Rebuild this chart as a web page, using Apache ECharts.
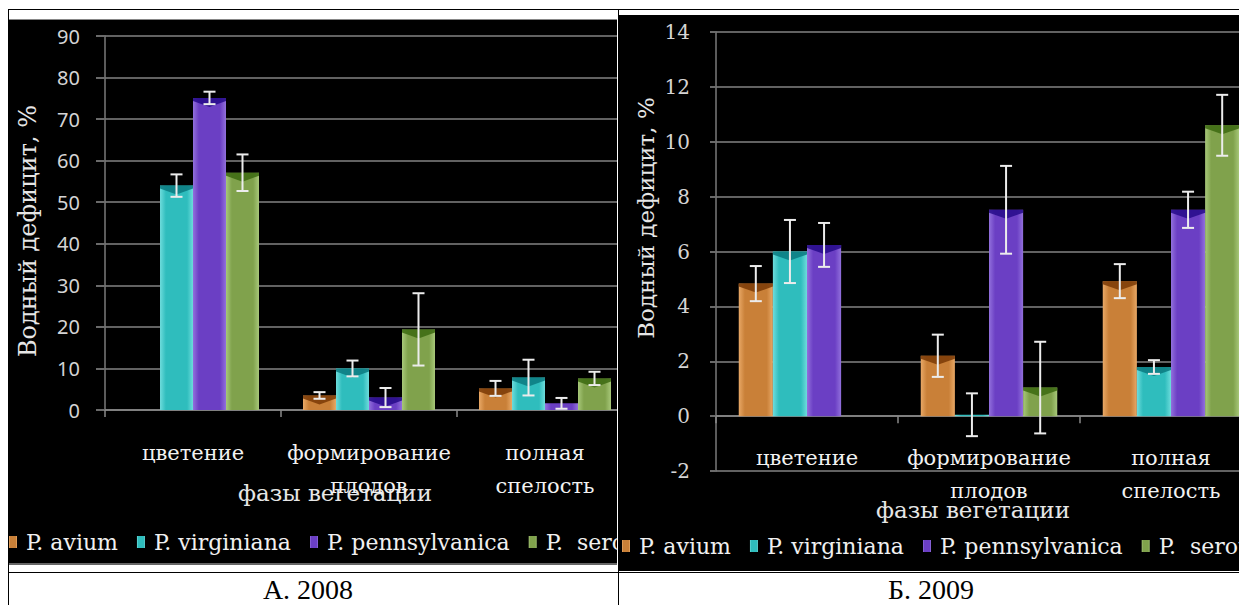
<!DOCTYPE html>
<html>
<head>
<meta charset="utf-8">
<script src="https://cdn.jsdelivr.net/npm/echarts@6/dist/echarts.min.js"></script>
<style>
  html, body { margin: 0; padding: 0; background: #fff; }
  body { width: 1239px; height: 605px; position: relative; overflow: hidden; }
  .ln { position: absolute; background: #000; }
  .panel { position: absolute; background: #000; overflow: hidden; }
  .cap { position: absolute; top: 574px; height: 31px; line-height: 31px; text-align: center;
         font-family: "Liberation Serif", serif; font-size: 28px; color: #000; }
</style>
</head>
<body>
<div class="ln" style="left:8px;top:9px;width:1231px;height:1px"></div>
<div class="ln" style="left:8px;top:572px;width:1231px;height:1px"></div>
<div class="ln" style="left:8px;top:9px;width:1px;height:596px"></div>
<div class="ln" style="left:618px;top:9px;width:1px;height:596px"></div>
<div class="panel" style="left:9px;top:19px;width:608px;height:543px;border-top:1px solid #888;border-bottom:2px solid #666;">
  <div id="c1" style="width:780px;height:543px"></div>
</div>
<div class="panel" style="left:619px;top:15px;width:620px;height:556px;">
  <div id="c2" style="width:780px;height:556px"></div>
</div>
<div class="cap" style="left:203px;width:210px">А. 2008</div>
<div class="cap" style="left:826px;width:210px">Б. 2009</div>
<script>
// ---------- data ----------
const categories = ['цветение', 'формирование\nплодов', 'полная\nспелость'];
const seriesNames = ['P. avium', 'P. virginiana', 'P. pennsylvanica', 'P.  serotina'];
const yAxisName = 'Водный дефицит, %';
const xAxisName = 'фазы вегетации';

// 2008 (panel A)
const avium2008 = [null, 3.5, 5.2];
const aviumErr2008 = [null, 0.8, 1.8];
const virginiana2008 = [54.0, 10.0, 7.8];
const virginianaErr2008 = [2.7, 1.9, 4.3];
const pennsylvanica2008 = [75.1, 3.0, 1.6];
const pennsylvanicaErr2008 = [1.5, 2.3, 1.3];
const serotina2008 = [57.1, 19.4, 7.6];
const serotinaErr2008 = [4.4, 8.7, 1.6];
const yRange2008 = { min: 0, max: 90, interval: 10 };

// 2009 (panel B)
const avium2009 = [4.83, 2.2, 4.92];
const aviumErr2009 = [0.64, 0.77, 0.62];
const virginiana2009 = [6.0, 0.05, 1.79];
const virginianaErr2009 = [1.15, 0.78, 0.25];
const pennsylvanica2009 = [6.24, 7.52, 7.52];
const pennsylvanicaErr2009 = [0.8, 1.6, 0.66];
const serotina2009 = [null, 1.04, 10.6];
const serotinaErr2009 = [null, 1.67, 1.11];
const yRange2009 = { min: -2, max: 14, interval: 2 };

// ---------- styles ----------
const baseColors = ['#c98038', '#2fbdbd', '#6b3fc4', '#80a24c'];
const edgeColors = ['#e8a866', '#6edcdc', '#9270dc', '#a8c87a'];
const capColors  = ['#7a3a06', '#0a7a80', '#260a8a', '#3c6a10'];
const SERIF = '"DejaVu Serif", serif';

function grad(i) {
  return new echarts.graphic.LinearGradient(0, 0, 1, 0, [
    { offset: 0, color: edgeColors[i] },
    { offset: 0.18, color: baseColors[i] },
    { offset: 0.82, color: baseColors[i] },
    { offset: 1, color: edgeColors[i] }
  ]);
}

function build(el, cfg) {
  const chart = echarts.init(el, null, { renderer: 'svg' });
  const vals = cfg.values, errs = cfg.errors;
  const errData = [];
  vals.forEach((arr, s) => arr.forEach((v, i) => {
    if (v !== null && errs[s][i] !== null) errData.push([i, v - errs[s][i], v + errs[s][i], s, v]);
  }));
  const barSeries = vals.map((arr, s) => ({
    name: seriesNames[s], type: 'bar', data: arr,
    barGap: '0%', barCategoryGap: '25%',
    itemStyle: { color: grad(s) }, z: 2
  }));
  const errSeries = {
    type: 'custom', data: errData, z: 5, silent: true,
    encode: { x: 0, y: [1, 2] },
    renderItem: function (params, api) {
      const cat = api.value(0), lo = api.value(1), hi = api.value(2), s = api.value(3), v = api.value(4);
      const cw = api.size([1, 0])[0];
      const bw = cw * 0.75 / 4;
      const cx = api.coord([cat, 0])[0] - cw * 0.375 + bw * (s + 0.5);
      const yLo = api.coord([cat, lo])[1], yHi = api.coord([cat, hi])[1], yV = api.coord([cat, v])[1], y0 = api.coord([cat, 0])[1];
      const children = [];
      if (y0 - yV > 10) {
        children.push({ type: 'polygon', shape: { points: [[cx - bw / 2, yV], [cx + bw / 2, yV], [cx + bw / 2, yV + 3], [cx, yV + 9], [cx - bw / 2, yV + 3]] },
          style: { fill: capColors[s], opacity: 0.85 } });
      }
      const st = { stroke: '#ececec', lineWidth: 2 };
      children.push({ type: 'line', shape: { x1: cx, y1: yLo, x2: cx, y2: yHi }, style: st });
      children.push({ type: 'line', shape: { x1: cx - 6, y1: yHi, x2: cx + 6, y2: yHi }, style: st });
      children.push({ type: 'line', shape: { x1: cx - 6, y1: yLo, x2: cx + 6, y2: yLo }, style: st });
      return { type: 'group', children: children };
    }
  };
  chart.setOption({
    backgroundColor: '#000',
    animation: false,
    grid: cfg.grid,
    legend: {
      data: seriesNames, left: cfg.legendLeft, top: cfg.legendTop, icon: 'rect',
      width: 770, padding: 0,
      itemWidth: 8, itemHeight: 12, itemGap: 19,
      textStyle: { color: '#f0f0f0', fontFamily: SERIF, fontSize: 22, padding: [0, 0, 0, 4] }
    },
    xAxis: {
      type: 'category', data: categories,
      axisLine: { show: true, onZero: true, lineStyle: { color: '#8a8a8a', width: 1.5 } },
      axisTick: { show: true, alignWithLabel: false, length: 7, lineStyle: { color: '#8a8a8a', width: 1.5 } },
      axisLabel: { color: '#f2f2f2', fontFamily: SERIF, fontSize: 21, lineHeight: 33, margin: cfg.xLabelMargin, interval: 0 }
    },
    yAxis: {
      type: 'value', min: cfg.range.min, max: cfg.range.max, interval: cfg.range.interval,
      axisLine: { show: true, lineStyle: { color: '#7a7a7a', width: 1.5 } },
      axisTick: { show: true, length: cfg.tickLen, lineStyle: { color: '#6a6a6a', width: 2 } },
      splitLine: { show: true, lineStyle: { color: '#626262', width: 2 } },
      axisLabel: { color: '#d4d4d4', fontFamily: cfg.yFont, fontSize: 20, margin: cfg.labelMargin }
    },
    graphic: [
      { type: 'text', x: cfg.yName[0], y: cfg.yName[1], rotation: Math.PI / 2,
        style: { text: yAxisName, fill: '#e6e6e6', font: cfg.yNameSize + 'px ' + SERIF, align: 'center', verticalAlign: 'middle', textAlign: 'center', textVerticalAlign: 'middle' } },
      { type: 'text', x: cfg.xName[0], y: cfg.xName[1],
        style: { text: xAxisName, fill: '#e6e6e6', font: '23px ' + SERIF, align: 'center', verticalAlign: 'middle', textAlign: 'center', textVerticalAlign: 'middle' } }
    ],
    series: barSeries.concat([errSeries])
  });
  return chart;
}

build(document.getElementById('c1'), {
  values: [avium2008, virginiana2008, pennsylvanica2008, serotina2008],
  errors: [aviumErr2008, virginianaErr2008, pennsylvanicaErr2008, serotinaErr2008],
  range: yRange2008,
  grid: { left: 96, right: 156, top: 16, bottom: 153 },
  legendLeft: 0, legendTop: 511,
  tickLen: 9, labelMargin: 25, xLabelMargin: 26,
  yFont: '"Noto Sans", sans-serif',
  yName: [19, 211], yNameSize: 24,
  xName: [326, 473]
});

build(document.getElementById('c2'), {
  values: [avium2009, virginiana2009, pennsylvanica2009, serotina2009],
  errors: [aviumErr2009, virginianaErr2009, pennsylvanicaErr2009, serotinaErr2009],
  range: yRange2009,
  grid: { left: 97, right: 137, top: 17, bottom: 100 },
  legendLeft: 3, legendTop: 520,
  tickLen: 6, labelMargin: 26, xLabelMargin: -30,
  yFont: SERIF,
  yName: [27, 203], yNameSize: 23,
  xName: [354, 495]
});
</script>
</body>
</html>
